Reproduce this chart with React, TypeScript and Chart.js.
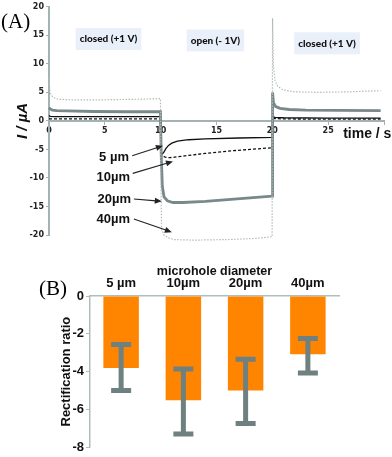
import React, { useEffect, useRef } from "react";
import { Chart, registerables } from "chart.js";
Chart.register(...registerables);

// ---------- Panel A data (time in s, current in µA) ----------
const t40 = [0, 0.08, 0.2, 0.4, 0.8, 2, 5, 8, 9.98, 10.02, 10.08, 10.3, 10.7, 11.2, 13, 16, 18.5, 19.98, 20.02, 20.1, 20.25, 20.5, 21, 22, 24, 27, 29.7];
const v40 = [7.5, 5.2, 4.5, 4.1, 3.8, 3.7, 3.7, 3.8, 3.9, -10, -19.0, -20.0, -20.5, -20.8, -20.9, -20.8, -20.6, -20.3, 18, 9.5, 7.0, 6.0, 5.4, 5.1, 5.0, 5.1, 5.3];

const t20 = [0, 0.1, 0.3, 0.7, 1.5, 4, 7, 9.98, 10.05, 10.15, 10.3, 10.6, 11.1, 12, 14, 16, 18, 19.98, 20.02, 20.1, 20.3, 20.7, 21.5, 23, 26, 29.7];
const v20 = [2.3, 2.1, 1.9, 1.8, 1.75, 1.65, 1.6, 1.6, -6, -11.5, -13.3, -14.0, -14.3, -14.3, -14.1, -13.8, -13.5, -13.2, 5.0, 3.2, 2.5, 2.2, 2.0, 1.9, 1.85, 1.8];

const t10 = [0, 9.98, 10.02, 10.15, 10.4, 10.8, 11.5, 12.5, 14, 16, 18, 19.98, 20.02, 20.2, 21, 25, 29.7];
const v10 = [0.35, 0.35, -5.4, -6.1, -6.35, -6.45, -6.3, -6.05, -5.7, -5.3, -5.0, -4.7, 0.6, 0.4, 0.35, 0.3, 0.3];

const t5 = [0, 0.1, 0.5, 5, 9.98, 10.02, 10.12, 10.25, 10.45, 10.7, 11, 11.5, 12.5, 14, 17, 19.98, 20.02, 20.2, 21, 25, 29.7];
const v5 = [0.95, 0.8, 0.75, 0.75, 0.75, -5.3, -5.8, -5.6, -4.9, -4.3, -3.9, -3.55, -3.3, -3.15, -3.0, -2.9, 0.9, 0.6, 0.55, 0.5, 0.5];

const timeTickStep = 5;
const currentTickStep = 5;

// phase labels (text + anchor in data units)
const phaseTexts = ["closed (+1 V)", "open (- 1V)", "closed (+1 V)"];
const phaseAnchorT = [5.33, 14.9, 24.9];
const phaseAnchorV = [14.35, 14.1, 13.6];

// series labels with arrows (data units)
const seriesNames = ["5 µm", "10µm", "20µm", "40µm"];
const labelAt = [[7.16, -6.43], [7.25, -9.9], [7.34, -13.7], [7.25, -17.2]];
const arrowFrom = [[7.45, -6.1], [7.5, -9.2], [7.6, -13.7], [7.6, -17.2]];
const arrowTo = [[10.2, -4.35], [11.1, -7.1], [10.1, -14.1], [11.0, -19.5]];

// ---------- Panel B data ----------
const barCategories = ["5 µm", "10µm", "20µm", "40µm"];
const barValues = [-3.81, -5.52, -5.0, -3.08];
const errTop = [-2.56, -3.86, -3.34, -2.25];
const errBottom = [-5.0, -7.3, -6.74, -4.07];

const axisA = "#a3b3b3";
const axisB = "#aebdbd";

const pts = (t: number[], v: number[]) => t.map((x, i) => ({ x, y: v[i] }));

const annotA = {
  id: "annotA",
  afterDatasetsDraw(chart: any) {
    const { ctx, scales } = chart;
    const x = scales.x, y = scales.y;
    ctx.save();
    // phase boxes
    ctx.font = "900 10px Lato";
    ctx.textAlign = "center";
    ctx.textBaseline = "middle";
    phaseTexts.forEach((txt, i) => {
      const cx = x.getPixelForValue(phaseAnchorT[i]);
      const cy = y.getPixelForValue(phaseAnchorV[i]);
      const w = ctx.measureText(txt).width + 8;
      ctx.fillStyle = "#eaf0fa";
      ctx.fillRect(cx - w / 2, cy - 11, w, 22);
      ctx.fillStyle = "#111";
      ctx.fillText(txt, cx, cy);
    });
    // series labels + arrows
    ctx.font = "bold 13px 'Liberation Sans'";
    ctx.textAlign = "right";
    seriesNames.forEach((txt, i) => {
      ctx.fillStyle = "#111";
      ctx.fillText(txt, x.getPixelForValue(labelAt[i][0]), y.getPixelForValue(labelAt[i][1]));
      const x1 = x.getPixelForValue(arrowFrom[i][0]), y1 = y.getPixelForValue(arrowFrom[i][1]);
      const x2 = x.getPixelForValue(arrowTo[i][0]), y2 = y.getPixelForValue(arrowTo[i][1]);
      const ang = Math.atan2(y2 - y1, x2 - x1);
      const hl = 7, hw = 3;
      ctx.strokeStyle = "#222";
      ctx.lineWidth = 1.1;
      ctx.beginPath();
      ctx.moveTo(x1, y1);
      ctx.lineTo(x2 - Math.cos(ang) * hl * 0.8, y2 - Math.sin(ang) * hl * 0.8);
      ctx.stroke();
      ctx.fillStyle = "#222";
      ctx.beginPath();
      ctx.moveTo(x2, y2);
      ctx.lineTo(x2 - Math.cos(ang) * hl - Math.sin(ang) * hw, y2 - Math.sin(ang) * hl + Math.cos(ang) * hw);
      ctx.lineTo(x2 - Math.cos(ang) * hl + Math.sin(ang) * hw, y2 - Math.sin(ang) * hl - Math.cos(ang) * hw);
      ctx.closePath();
      ctx.fill();
    });
    // axis title for time
    ctx.font = "bold 14px 'Liberation Sans'";
    ctx.textAlign = "center";
    ctx.fillStyle = "#111";
    ctx.fillText("time / s", x.getPixelForValue(28.5), y.getPixelForValue(0) + 13);
    ctx.restore();
  },
};

const errorBars = {
  id: "errorBars",
  afterDatasetsDraw(chart: any) {
    const { ctx, scales } = chart;
    const y = scales.y;
    const meta = chart.getDatasetMeta(0);
    ctx.save();
    ctx.strokeStyle = "#6e8080";
    ctx.lineWidth = 5;
    meta.data.forEach((bar: any, i: number) => {
      const cx = bar.x;
      const yt = y.getPixelForValue(errTop[i]);
      const yb = y.getPixelForValue(errBottom[i]);
      ctx.beginPath();
      ctx.moveTo(cx, yt);
      ctx.lineTo(cx, yb);
      ctx.moveTo(cx - 10, yt);
      ctx.lineTo(cx + 10, yt);
      ctx.moveTo(cx - 10, yb);
      ctx.lineTo(cx + 10, yb);
      ctx.stroke();
    });
    ctx.restore();
  },
};

export default function App() {
  const refA = useRef<HTMLCanvasElement>(null);
  const refB = useRef<HTMLCanvasElement>(null);

  useEffect(() => {
    const tickFontA = { family: "'DejaVu Sans'", size: 8, weight: "bold" as const };
    const chartA = new Chart(refA.current!, {
      type: "line",
      data: {
        datasets: [
          { data: pts(t40, v40), borderColor: "#b3baba", borderWidth: 1.2, borderDash: [1.5, 1.5], pointRadius: 0, fill: false, clip: false },
          { data: pts(t20, v20), borderColor: "#798888", borderWidth: 2.8, pointRadius: 0, fill: false, clip: false },
          { data: pts(t10, v10), borderColor: "#111", borderWidth: 1.3, borderDash: [3, 2], pointRadius: 0, fill: false, clip: false },
          { data: pts(t5, v5), borderColor: "#111", borderWidth: 1.3, pointRadius: 0, fill: false, clip: false },
        ] as any,
      },
      options: {
        responsive: false,
        animation: false,
        layout: { padding: { left: 0, right: 8, top: 5, bottom: 10 } },
        plugins: { legend: { display: false }, tooltip: { enabled: false } },
        scales: {
          x: {
            type: "linear",
            min: 0,
            max: 30,
            position: { y: 0 } as any,
            afterFit: (s: any) => { s.height = 0; },
            border: { display: true, color: axisA, width: 2 },
            grid: { drawOnChartArea: false, drawTicks: true, tickLength: 3, color: axisA },
            ticks: {
              stepSize: timeTickStep,
              font: tickFontA,
              color: "#222",
              padding: 2,
              maxRotation: 0,
              callback: (v: any) => (v === 30 ? "" : String(v)),
            },
          },
          y: {
            type: "linear",
            min: -20,
            max: 20,
            afterFit: (s: any) => { s.width = 49; },
            border: { display: true, color: axisA, width: 2 },
            grid: { drawOnChartArea: false, drawTicks: true, tickLength: 3, color: axisA },
            ticks: { stepSize: currentTickStep, font: tickFontA, color: "#222", padding: 2 },
            title: {
              display: true,
              text: "I / µA",
              color: "#111",
              font: { family: "'Liberation Sans'", size: 15, weight: "bold", style: "italic" },
              padding: { top: 14, bottom: 0 },
            },
          },
        },
      },
      plugins: [annotA],
    });

    const chartB = new Chart(refB.current!, {
      type: "bar",
      data: {
        labels: barCategories,
        datasets: [
          { data: barValues, backgroundColor: "#ff8400", barPercentage: 0.57, categoryPercentage: 1 },
        ],
      },
      options: {
        responsive: false,
        animation: false,
        layout: { padding: { left: 0, right: 53, top: 0, bottom: 8 } },
        plugins: { legend: { display: false }, tooltip: { enabled: false } },
        scales: {
          x: {
            position: "top",
            afterFit: (s: any) => { s.height = 51; },
            border: { display: true, color: axisB, width: 1.5 },
            grid: { display: false, drawTicks: false },
            ticks: { font: { family: "'Liberation Sans'", size: 13, weight: "bold" }, color: "#111", padding: 5 },
            title: {
              display: true,
              text: "microhole diameter",
              color: "#111",
              font: { family: "'Liberation Sans'", size: 12.5, weight: "bold" },
              padding: { top: 19, bottom: 0 },
            },
          },
          y: {
            min: -8,
            max: 0,
            afterFit: (s: any) => { s.width = 90; },
            border: { display: true, color: axisB, width: 1.5 },
            grid: { drawOnChartArea: false, drawTicks: true, tickLength: 4, color: axisB },
            ticks: { stepSize: 2, font: { family: "'Liberation Sans'", size: 13, weight: "bold" }, color: "#111", padding: 2 },
            title: {
              display: true,
              text: "Rectification ratio",
              color: "#111",
              font: { family: "'Liberation Sans'", size: 13, weight: "bold" },
              padding: { top: 59, bottom: 0 },
            },
          },
        },
      },
      plugins: [errorBars],
    });

    return () => {
      chartA.destroy();
      chartB.destroy();
    };
  }, []);

  return (
    <div style={{ position: "absolute", left: 0, top: 0, width: 392, height: 457, background: "#fff", overflow: "hidden" }}>
      <canvas ref={refA} width={392} height={245} style={{ position: "absolute", left: 0, top: 0, width: 392, height: 245 }} />
      <canvas ref={refB} width={392} height={212} style={{ position: "absolute", left: 0, top: 245, width: 392, height: 212 }} />
      <div style={{ position: "absolute", left: 1, top: 11, font: "21px 'Liberation Serif'", lineHeight: "21px" }}>(A)</div>
      <div style={{ position: "absolute", left: 39, top: 278, font: "21px 'Liberation Serif'", lineHeight: "21px" }}>(B)</div>
    </div>
  );
}
